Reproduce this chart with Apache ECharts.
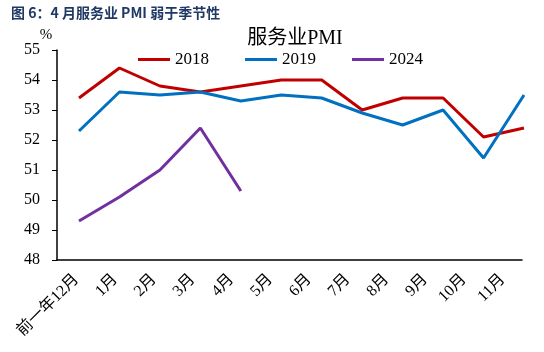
<!DOCTYPE html>
<html>
<head>
<meta charset="utf-8">
<script src="https://cdn.jsdelivr.net/npm/echarts@6/dist/echarts.min.js"></script>
<style>
  html, body { margin: 0; padding: 0; background: #fff; }
  #chart { width: 544px; height: 352px; }
</style>
</head>
<body>
<div id="chart"></div>
<script>
// 月份与数据
var months = ['前一年12月', '1月', '2月', '3月', '4月', '5月', '6月', '7月', '8月', '9月', '10月', '11月'];
var pmi2018 = [53.4, 54.4, 53.8, 53.6, 53.8, 54.0, 54.0, 53.0, 53.4, 53.4, 52.1, 52.4];
var pmi2019 = [52.3, 53.6, 53.5, 53.6, 53.3, 53.5, 53.4, 52.9, 52.5, 53.0, 51.4, 53.5];
var pmi2024 = [49.3, 50.1, 51.0, 52.4, 50.3];

var serif = 'Liberation Serif, "Noto Sans CJK SC", serif';
var chart = echarts.init(document.getElementById('chart'));

function line(name, data, color) {
  return {
    name: name, type: 'line', data: data,
    xAxisIndex: 1, yAxisIndex: 1,
    symbol: 'none', clip: false,
    lineStyle: { color: color, width: 3 },
    itemStyle: { color: color }
  };
}

chart.setOption({
  animation: false,
  title: [
    {
      text: '图 6：4 月服务业 PMI 弱于季节性',
      left: 6, top: 1,
      textStyle: { fontSize: 14, fontWeight: 'bold', color: '#1f3864', fontFamily: '"Noto Sans CJK SC", sans-serif' }
    },
    {
      text: '服务业PMI',
      left: 290, top: 24, textAlign: 'center',
      textStyle: { fontSize: 20, fontWeight: 'normal', color: '#000', fontFamily: serif }
    }
  ],
  legend: {
    left: 133, top: 46,
    itemWidth: 32, itemHeight: 3, itemGap: 36,
    icon: 'rect',
    textStyle: { fontSize: 17, color: '#000', fontFamily: serif },
    data: ['2018', '2019', '2024']
  },
  grid: [
    { left: 57, right: 22, top: 50, bottom: 92 },
    { left: 79, right: 20, top: 50, bottom: 92 }
  ],
  xAxis: [
    {
      type: 'category', gridIndex: 0, data: months, boundaryGap: true,
      axisLine: { lineStyle: { color: '#000', width: 1.5 } },
      axisTick: { length: 5, lineStyle: { color: '#000' } },
      axisLabel: { rotate: 45, margin: 17, fontSize: 16, color: '#000', fontFamily: serif }
    },
    {
      type: 'category', gridIndex: 1, data: months, boundaryGap: false, show: false
    }
  ],
  yAxis: [
    {
      type: 'value', gridIndex: 0, min: 48, max: 55, interval: 1,
      name: '%', nameLocation: 'end', nameGap: 2,
      nameTextStyle: { fontSize: 15, color: '#000', fontFamily: serif, padding: [0, 22, 0, 0] },
      axisLine: { show: true, lineStyle: { color: '#000', width: 1.5 } },
      axisTick: { show: true, length: 5, lineStyle: { color: '#000' } },
      axisLabel: { margin: 17, fontSize: 16, color: '#000', fontFamily: serif },
      splitLine: { show: false }
    },
    {
      type: 'value', gridIndex: 1, min: 48, max: 55, interval: 1, show: false,
      splitLine: { show: false }
    }
  ],
  series: [
    line('2018', pmi2018, '#c00000'),
    line('2019', pmi2019, '#0070c0'),
    line('2024', pmi2024, '#7030a0')
  ]
});
</script>
</body>
</html>
